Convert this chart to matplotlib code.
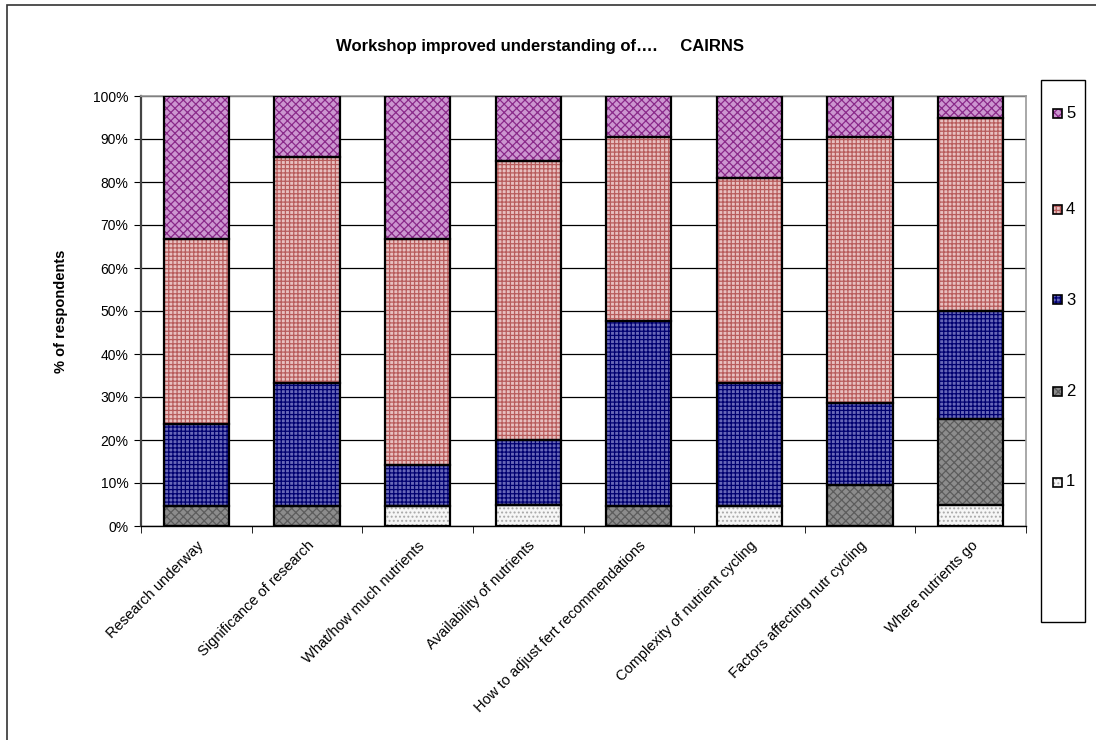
import matplotlib
matplotlib.use("Agg")
import matplotlib.pyplot as plt
from matplotlib.patches import Rectangle
import numpy as np

categories = ["Research underway", "Significance of research", "What/how much nutrients",
              "Availability of nutrients", "How to adjust fert recommendations",
              "Complexity of nutrient cycling", "Factors affecting nutr cycling",
              "Where nutrients go"]
levels = ["1", "2", "3", "4", "5"]
# percent of respondents per rating level
pct_1 = [0.0, 0.0, 4.76, 5.0, 0.0, 4.76, 0.0, 5.0]
pct_2 = [4.76, 4.76, 0.0, 0.0, 4.76, 0.0, 9.52, 20.0]
pct_3 = [19.05, 28.57, 9.52, 15.0, 42.86, 28.57, 19.05, 25.0]
pct_4 = [42.86, 52.38, 52.38, 65.0, 42.86, 47.62, 61.90, 45.0]
pct_5 = [33.33, 14.29, 33.33, 15.0, 9.52, 19.05, 9.52, 5.0]
yticks = [0, 10, 20, 30, 40, 50, 60, 70, 80, 90, 100]

series = [pct_1, pct_2, pct_3, pct_4, pct_5]
styles = [
    dict(face="#f6f6f6", hatch="....", hc="#a8a8a8"),
    dict(face="#8c8c8c", hatch="xxxx", hc="#5c5c5c"),
    dict(face="#6868b8", hatch="++++", hc="#000070"),
    dict(face="#e8c0c0", hatch="++++", hc="#b85c5c"),
    dict(face="#cc96d0", hatch="xxxx", hc="#8a2a8a"),
]

plt.rcParams["font.family"] = ["Liberation Sans", "DejaVu Sans"]
plt.rcParams["hatch.linewidth"] = 0.9

W, H = 1096, 740
fig = plt.figure(figsize=(W / 100, H / 100), dpi=100)
ax = fig.add_axes([141 / W, 1 - 526 / H, 885 / W, 430 / H])

x = np.arange(len(categories))
bottom = np.zeros(len(categories))
bw = 0.59
for vals, st in zip(series, styles):
    vals = np.array(vals)
    ax.bar(x, vals, bw, bottom=bottom, color=st["face"], hatch=st["hatch"],
           edgecolor=st["hc"], linewidth=0, zorder=3)
    ax.bar(x, vals, bw, bottom=bottom, fill=False, edgecolor="black",
           linewidth=1.6, zorder=4)
    bottom += vals

ax.set_xlim(-0.5, len(categories) - 0.5)
ax.set_ylim(0, 100)
ax.set_yticks(yticks)
ax.set_yticklabels([f"{t}%" for t in yticks], fontsize=10)
ax.yaxis.grid(True, color="black", linewidth=0.9, zorder=1)
ax.set_axisbelow(True)
ax.set_xticks(x)
ax.set_xticklabels(categories, rotation=45, ha="right", rotation_mode="anchor", fontsize=10.5)
ax.tick_params(axis="x", length=0, pad=9)
ax.set_xticks(np.arange(len(categories) + 1) - 0.5, minor=True)
ax.tick_params(axis="x", which="minor", length=5, direction="out", color="black")
ax.tick_params(axis="y", length=5, direction="out", color="black", pad=4)
for side in ["top", "right"]:
    ax.spines[side].set_color("#9a9a9a")
    ax.spines[side].set_linewidth(1.2)
ax.spines["left"].set_color("#444444")
ax.spines["left"].set_linewidth(1.6)
ax.spines["bottom"].set_color("black")
ax.spines["bottom"].set_linewidth(1.0)
ax.set_ylabel("% of respondents", fontsize=10.5, fontweight="bold", labelpad=18)

fig.text(540 / W, 1 - 47 / H, "Workshop improved understanding of….     CAIRNS",
         ha="center", va="center", fontsize=12, fontweight="bold")

# outer chart border (left and top visible)
fig.add_artist(Rectangle((7 / W, -0.1), 1.2, 1 - 5 / H + 0.1, transform=fig.transFigure,
                         fill=False, edgecolor="#333333", linewidth=1.2))

# legend
fig.add_artist(Rectangle((1041 / W, 1 - 622 / H), 44 / W, 542 / H, transform=fig.transFigure,
                         facecolor="white", edgecolor="black", linewidth=1.0))
leg_y = {"5": 113, "4": 209, "3": 300, "2": 391, "1": 482}
for lev, st in zip(levels, styles):
    yc = leg_y[lev]
    r = Rectangle((1053 / W, 1 - (yc + 4.5) / H), 9 / W, 9 / H, transform=fig.transFigure,
                  facecolor=st["face"], hatch=st["hatch"], edgecolor=st["hc"], linewidth=0)
    fig.add_artist(r)
    fig.add_artist(Rectangle((1053 / W, 1 - (yc + 4.5) / H), 9 / W, 9 / H,
                             transform=fig.transFigure, fill=False, edgecolor="black",
                             linewidth=1.2))
    fig.text(1066 / W, 1 - yc / H, lev, ha="left", va="center", fontsize=12)

fig.savefig("out.png", dpi=100)
